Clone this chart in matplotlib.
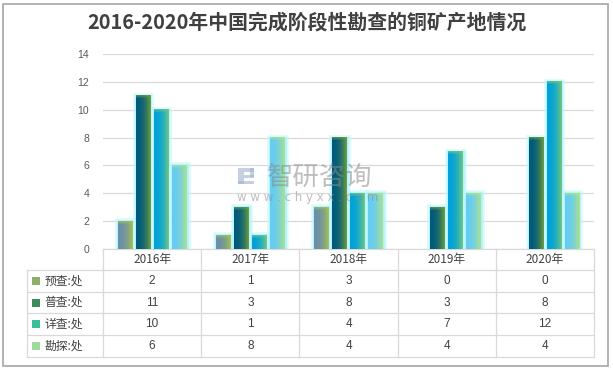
import numpy as np
import matplotlib
matplotlib.use("Agg")
import matplotlib.pyplot as plt
from matplotlib.patches import Rectangle
from matplotlib.colors import to_rgb
import matplotlib.transforms as mtransforms

plt.rcParams['font.family'] = ['Noto Sans CJK SC', 'DejaVu Sans']

title = "2016-2020年中国完成阶段性勘查的铜矿产地情况"
years = ["2016年", "2017年", "2018年", "2019年", "2020年"]
series_names = ["预查:处", "普查:处", "详查:处", "勘探:处"]
yucha = [2, 1, 3, 0, 0]
pucha = [11, 3, 8, 3, 8]
xiangcha = [10, 1, 4, 7, 12]
kantan = [6, 8, 4, 4, 4]
values = [yucha, pucha, xiangcha, kantan]
yticks = [0, 2, 4, 6, 8, 10, 12, 14]

# gradient colors (left, right) per series
grad = [("#6a8fa8", "#a9c24e"),
        ("#005a7c", "#6f9e3c"),
        ("#00a2da", "#72c97e"),
        ("#66ccf2", "#aee38a")]
legend_cols = ["#8fae6a", "#3f8a5a", "#3bbf9a", "#9fdc9c"]

W, H = 613, 369
fig = plt.figure(figsize=(W / 100, H / 100), dpi=100)
fig.patch.set_facecolor("white")
fig.patches.append(Rectangle((3 / W, 3 / H), 605 / W, 362 / H, transform=fig.transFigure,
                             fill=False, edgecolor="#a6a6a6", linewidth=1.2))

ax_l, ax_r, ax_b, ax_t = 103, 594, 249, 54
ax = fig.add_axes([ax_l / W, 1 - ax_b / H, (ax_r - ax_l) / W, (ax_b - ax_t) / H])
ax.set_facecolor("none")

x = np.arange(len(years))
bw = 0.15
step = 0.184
offsets = (np.arange(4) - 1.5) * step

for s in range(4):
    c1 = np.array(to_rgb(grad[s][0]))
    c2 = np.array(to_rgb(grad[s][1]))
    vals = values[s]
    glow_vals = [v if v > 0 else np.nan for v in vals]
    ax.bar(x + offsets[s], glow_vals, width=bw, color="#c8f8ff", edgecolor="#c8f8ff",
           linewidth=5, alpha=0.55, zorder=2)
    ax.bar(x + offsets[s], glow_vals, width=bw, color="#9cf0ff", edgecolor="#9cf0ff",
           linewidth=2.5, alpha=0.6, zorder=2)
    bars = ax.bar(x + offsets[s], vals, width=bw, color="none", zorder=3)
    for b in bars:
        bx, by, w, h = b.get_x(), b.get_y(), b.get_width(), b.get_height()
        if h <= 0:
            continue
        nh = 40
        nv = max(int(h * 14), 4)
        t = (np.linspace(0, 1, nh) ** 2.2)[None, :, None]
        img = c1 * (1 - t) + c2 * t
        img = np.repeat(img, nv, axis=0)
        topfrac = np.clip(1 - np.arange(nv)[::-1] / 3.0, 0, 1)[:, None, None]
        img = img * (1 - 0.7 * topfrac) + c2 * 0.7 * topfrac
        ax.imshow(img, extent=[bx, bx + w, by, by + h], aspect="auto",
                  interpolation="bilinear", zorder=3, origin="lower")

ax.set_xlim(-0.5, len(years) - 0.5)
ax.set_ylim(0, 14)
ax.set_yticks(yticks)
ax.set_yticklabels([str(v) for v in yticks], fontsize=7.5, color="#595959",
                   family=['Liberation Sans', 'DejaVu Sans'])
ax.tick_params(axis="y", length=0, pad=10)
ax.set_xticks([])
ax.grid(axis="y", color="#d9d9d9", linewidth=0.9, zorder=0)
ax.set_axisbelow(True)
for sp in ax.spines.values():
    sp.set_visible(False)

# data table
trans = mtransforms.blended_transform_factory(ax.transData, ax.transAxes)
axh = ax_b - ax_t
row_px = [249, 270, 292, 313, 335, 357]
rows = [(ax_b - p) / axh for p in row_px]
lab_left = -0.5 - (ax_l - 27) / ((ax_r - ax_l) / len(years))
xr = len(years) - 0.5
lc = "#d9d9d9"
lw = 0.9
ax.plot([-0.5, xr], [rows[0], rows[0]], color=lc, lw=lw, transform=trans, clip_on=False)
for r in rows[1:]:
    ax.plot([lab_left, xr], [r, r], color=lc, lw=lw, transform=trans, clip_on=False)
for i in range(len(years) + 1):
    ax.plot([i - 0.5, i - 0.5], [rows[0], rows[-1]], color=lc, lw=lw, transform=trans, clip_on=False)
ax.plot([lab_left, lab_left], [rows[1], rows[-1]], color=lc, lw=lw, transform=trans, clip_on=False)

tcol = "#404040"
for i, yl in enumerate(years):
    ax.text(i, (rows[0] + rows[1]) / 2, yl, ha="center", va="center", fontsize=8.5,
            color=tcol, transform=trans)
for s in range(4):
    yc = (rows[s + 1] + rows[s + 2]) / 2
    for i in range(len(years)):
        ax.text(i, yc, str(values[s][i]), ha="center", va="center", fontsize=8.5,
                color=tcol, transform=trans, family=['Liberation Sans', 'DejaVu Sans'])
    ax.text(lab_left + 0.18, yc, series_names[s], ha="left", va="center", fontsize=8.5,
            color=tcol, transform=trans)
    sq_h = 8 / axh
    sq_w = 8 / ((ax_r - ax_l) / len(years))
    ax.add_patch(Rectangle((lab_left + 0.05, yc - sq_h / 2), sq_w, sq_h, transform=trans,
                           facecolor=legend_cols[s], edgecolor="none", clip_on=False))

# watermark
fig.text(320 / W, 1 - 177 / H, "智研咨询", fontsize=19, color="#8a8a8a", alpha=0.55,
         ha="center", va="center")
fig.text(308 / W, 1 - 197 / H, "w w w . c h y x x . c o m", fontsize=8.5, color="#8a8a8a",
         alpha=0.55, ha="center", va="center", family=['DejaVu Sans'])
# simple logo blocks
for (lx, ly, lw_, lh_) in [(238, 168, 6, 16), (244, 168, 10, 4), (250, 168, 4, 9),
                           (244, 175, 10, 3), (238, 181, 16, 3)]:
    fig.patches.append(Rectangle((lx / W, 1 - (ly + lh_) / H), lw_ / W, lh_ / H,
                                 transform=fig.transFigure, facecolor="#9fb2cf",
                                 edgecolor="none", alpha=0.6))

fig.text(307 / W, 1 - 22 / H, title, fontsize=14.3, fontweight="bold", color="#404040",
         ha="center", va="center")

fig.savefig("out.png", dpi=100, facecolor="white")
